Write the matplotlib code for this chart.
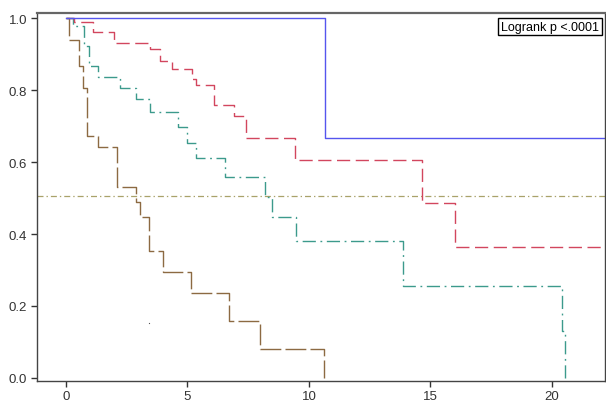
import matplotlib
matplotlib.use("Agg")
import matplotlib.pyplot as plt

# survival curves (time, survival probability)
blue_t = [0, 10.66, 22.2]
blue_s = [1.0, 0.666, 0.666]

red_t = [0, 0.33, 1.12, 1.99, 3.46, 3.87, 4.35, 5.17, 5.34, 6.10, 6.93, 7.41, 9.42, 14.66, 16.0, 22.2]
red_s = [1.0, 0.99, 0.96, 0.932, 0.914, 0.881, 0.858, 0.832, 0.814, 0.758, 0.729, 0.666, 0.606, 0.486, 0.363, 0.363]

teal_t = [0, 0.30, 0.76, 0.95, 1.30, 2.22, 2.88, 3.46, 4.60, 4.97, 5.34, 6.54, 8.19, 8.50, 9.47, 13.86, 20.40, 20.54]
teal_s = [1.0, 0.979, 0.923, 0.868, 0.835, 0.805, 0.775, 0.740, 0.696, 0.652, 0.610, 0.557, 0.503, 0.446, 0.381, 0.255, 0.131, 0.0]

brown_t = [0, 0.14, 0.53, 0.71, 0.85, 1.32, 2.10, 2.88, 3.05, 3.43, 4.00, 5.14, 6.71, 7.98, 10.63]
brown_s = [1.0, 0.94, 0.868, 0.807, 0.673, 0.641, 0.53, 0.488, 0.446, 0.354, 0.294, 0.235, 0.159, 0.081, 0.0]

median_line = 0.505
stray_t = [3.40]
stray_s = [0.153]

x_ticks = [0, 5, 10, 15, 20]
y_ticks = [0.0, 0.2, 0.4, 0.6, 0.8, 1.0]
annot = "Logrank p <.0001"

plt.rcParams['font.family'] = ['Liberation Sans', 'DejaVu Sans']

fig = plt.figure(figsize=(6.06, 4.06), dpi=100)
ax = fig.add_axes([0.0606, 0.0599, 0.9374, 0.9056])

ax.axhline(median_line, color='#a9a26a', lw=0.9, dashes=(4.8, 2.4, 1.1, 2.4))
ax.step(brown_t, brown_s, where='post', color='#8c6a42', lw=1.0, dashes=(15, 3))
ax.step(teal_t, teal_s, where='post', color='#3c9a8c', lw=1.0, dashes=(9.5, 3.3, 1.3, 3.3))
ax.step(red_t, red_s, where='post', color='#d2465e', lw=1.0, dashes=(9.5, 4))
ax.step(blue_t, blue_s, where='post', color='#5555ee', lw=1.0)
ax.plot(stray_t, stray_s, ls='none', marker='s', ms=0.8, mew=0, color='#555555')

ax.set_xlim(-1.206, 22.18)
ax.set_ylim(-0.0075, 1.014)
ax.set_xticks(x_ticks)
ax.set_yticks(y_ticks)
ax.set_yticklabels([f"{v:.1f}" for v in y_ticks])
ax.tick_params(direction='out', length=4, width=1, color='#333333',
               labelsize=9.5, labelcolor='#333333', pad=3)
for sp in ax.spines.values():
    sp.set_color('#444444')
    sp.set_linewidth(1.0)
ax.spines['top'].set_color('#666666')
ax.spines['top'].set_linewidth(1.6)

ax.text(0.99, 0.979, annot, transform=ax.transAxes, ha='right', va='top',
        fontsize=9, color='black',
        bbox=dict(boxstyle='square,pad=0.22', fc='white', ec='black', lw=1.0))

fig.savefig("out.png", dpi=100)
